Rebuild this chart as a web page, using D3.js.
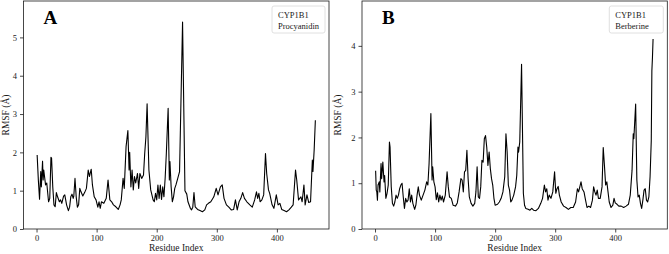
<!DOCTYPE html>
<html>
<head>
<meta charset="utf-8">
<script src="https://cdn.jsdelivr.net/npm/d3@7"></script>
<style>
  html, body { margin: 0; padding: 0; background: #fff; }
  svg { display: block; }
</style>
</head>
<body>
<div id="chart"></div>
<script>
// Panel A: CYP1B1 + Procyanidin
const resA = [1,3,5,7,8,10,11,12,15,17,20,22,24,25,27,29,31,33,35,38,40,42,45,47,50,53,55,57,59,61,62,64,66,68,70,72,74,77,80,83,86,88,91,93,96,99,102,104,106,108,112,116,119,122,125,128,132,136,139,141,144,146,149,152,154,155,157,159,161,163,165,168,170,172,175,178,180,182,184,187,190,194,196,198,200,202,204,206,208,210,212,214,216,219,221,222,224,226,228,230,232,235,238,243,247,250,252,256,258,260,262,264,268,272,276,280,283,286,290,295,299,302,306,309,312,316,320,324,328,331,334,337,340,343,346,350,355,359,363,366,368,370,372,375,378,381,383,386,388,392,395,399,402,405,408,412,416,420,424,427,431,433,436,440,442,445,447,450,453,456,459,460,462,464];
const rmsfA = [1.93,1.28,0.78,1.5,1.1,1.77,1.28,1.54,1.15,1.2,0.71,0.8,1.87,1.85,1.1,0.63,0.58,0.95,0.84,0.71,0.76,0.67,0.86,0.89,0.63,0.48,0.57,0.84,0.91,0.8,0.86,1.32,0.84,0.57,0.63,1.06,0.97,0.86,0.95,1.06,1.54,1.37,1.56,1.15,0.84,0.76,0.57,0.71,0.54,0.71,0.67,0.8,1.28,0.76,0.71,0.63,0.58,0.51,0.63,0.76,1.32,1.06,2.15,2.57,1.54,2.0,1.1,1.54,1.02,1.37,1.2,1.45,1.06,1.45,1.32,1.41,1.97,2.4,3.27,1.54,1.02,0.76,0.71,0.93,0.76,1.15,0.8,1.15,0.77,1.1,0.84,1.32,1.97,3.15,1.28,1.76,1.1,0.71,0.84,1.06,1.15,1.32,1.5,5.4,1.0,0.91,0.71,0.54,0.5,0.57,0.95,0.58,0.51,0.48,0.45,0.5,0.63,0.67,0.71,0.84,1.06,0.89,1.1,1.15,0.8,0.63,0.57,0.5,0.51,0.76,0.5,0.71,0.8,0.95,0.8,0.71,0.63,0.57,0.76,0.97,0.8,0.93,0.71,0.76,0.89,1.97,1.45,1.02,0.93,0.63,0.54,0.89,0.63,0.67,0.51,0.48,0.45,0.5,0.57,0.63,1.54,1.28,0.76,0.84,0.71,1.15,0.63,0.89,0.69,0.71,1.8,1.5,2.06,2.84];

// Panel B: CYP1B1 + Berberine
const resB = [1,2,3,4,5,7,8,10,11,13,15,16,18,20,22,24,25,27,29,31,33,35,37,39,41,43,45,47,49,51,53,55,57,59,61,63,66,68,70,72,74,77,80,83,86,88,90,93,95,96,98,100,102,104,106,108,110,112,114,117,120,122,124,127,130,134,137,140,143,145,147,149,151,153,155,157,160,163,166,168,170,172,174,176,178,180,182,184,186,188,190,192,194,196,198,200,204,207,210,213,216,218,220,222,224,226,228,231,234,236,238,239,241,244,247,249,251,255,258,261,264,268,272,276,279,282,284,286,288,290,293,296,299,301,303,305,307,310,314,318,322,326,330,334,337,339,341,343,345,348,350,353,356,359,362,364,366,368,370,372,375,378,380,382,384,386,388,390,393,396,398,400,403,406,410,414,418,422,425,428,430,431,434,436,438,440,442,444,446,448,450,452,454,456,458,460,461,462,463];
const rmsfB = [1.27,0.85,0.81,0.63,0.96,1.03,0.81,1.43,1.1,1.46,1.03,1.17,0.67,0.78,0.96,1.9,1.79,0.92,0.56,0.5,0.59,0.74,0.67,0.74,0.88,0.96,1.0,0.7,0.45,0.67,0.59,0.63,0.88,0.59,0.74,0.56,0.43,0.52,0.74,0.92,0.74,0.63,0.74,0.85,1.03,0.96,1.43,2.52,1.07,1.36,1.03,0.92,0.64,0.79,0.59,0.74,0.63,0.72,0.59,0.74,1.25,0.92,0.7,0.67,0.52,0.5,0.57,0.81,1.1,1.07,0.81,1.25,1.28,1.72,1.1,0.7,0.56,0.5,0.56,0.81,1.36,0.7,0.67,0.92,1.5,1.46,1.97,2.04,1.79,1.39,1.68,1.32,1.1,0.96,0.67,0.52,0.54,0.59,0.67,0.81,1.14,2.08,1.68,0.96,0.85,0.59,0.63,0.74,0.92,1.17,1.79,1.68,1.9,3.6,0.78,0.52,0.45,0.43,0.41,0.45,0.41,0.4,0.45,0.56,0.67,0.96,0.81,0.88,0.63,0.74,0.67,0.81,1.25,0.78,0.88,0.93,0.74,0.59,0.5,0.47,0.43,0.47,0.47,0.59,0.88,0.81,0.92,1.03,0.88,0.81,0.67,0.47,0.5,0.47,0.63,0.92,0.81,0.74,0.85,0.67,0.67,0.92,1.78,1.39,0.96,1.03,0.81,0.59,0.47,0.52,0.67,0.57,0.54,0.5,0.5,0.47,0.5,0.54,0.74,1.28,2.08,1.97,2.73,1.07,0.7,0.74,0.56,0.45,0.63,0.85,0.88,0.63,0.59,0.7,1.14,1.93,3.45,3.75,4.15];

const xTicks = [0, 100, 200, 300, 400];
const yTicksA = [0, 1, 2, 3, 4, 5];
const yTicksB = [0, 1, 2, 3, 4];

const width = 669, height = 254;
const font = "'Liberation Serif', 'DejaVu Serif', serif";
const ink = "#1a1a1a";

const svg = d3.select("#chart").append("svg")
    .attr("width", width)
    .attr("height", height)
    .attr("viewBox", `0 0 ${width} ${height}`);

const panels = [
    { res: resA, vals: rmsfA, left: 23.5, right: 329, yMax: 5.95, yTicks: yTicksA, yLabelOff: 14.5,
      letter: "A", legend: ["CYP1B1", "Procyanidin"], legendW: 53 },
    { res: resB, vals: rmsfB, left: 362, right: 667.3, yMax: 4.98, yTicks: yTicksB, yLabelOff: 21.5,
      letter: "B", legend: ["CYP1B1", "Berberine"], legendW: 54 }
];

const plotTop = 1, plotBottom = 229;

panels.forEach(p => {
    const x = d3.scaleLinear().domain([-21.7, 486.7]).range([p.left, p.right]);
    const y = d3.scaleLinear().domain([0, p.yMax]).range([plotBottom, plotTop]);
    const g = svg.append("g");

    // line
    const pts = p.res.map((r, i) => [r, p.vals[i]]);
    g.append("path")
        .datum(pts)
        .attr("fill", "none")
        .attr("stroke", "#000")
        .attr("stroke-width", 1.1)
        .attr("stroke-linejoin", "round")
        .attr("d", d3.line().x(d => x(d[0])).y(d => y(d[1])));

    // axes
    const xAxis = d3.axisBottom(x).tickValues(xTicks).tickFormat(d3.format("d")).tickSize(3.5).tickPadding(2.5);
    const yAxis = d3.axisLeft(y).tickValues(p.yTicks).tickFormat(d3.format("d")).tickSize(3.5).tickPadding(3);

    const gx = g.append("g").attr("transform", `translate(0,${plotBottom})`).call(xAxis);
    const gy = g.append("g").attr("transform", `translate(${p.left},0)`).call(yAxis);
    [gx, gy].forEach(a => {
        a.select(".domain").remove();
        a.selectAll("line").attr("stroke", ink).attr("stroke-width", 0.8);
        a.selectAll("text").attr("font-family", font).attr("font-size", 8.5).attr("fill", ink);
    });

    // frame
    g.append("rect")
        .attr("x", p.left).attr("y", plotTop)
        .attr("width", p.right - p.left).attr("height", plotBottom - plotTop)
        .attr("fill", "none").attr("stroke", ink).attr("stroke-width", 0.8);

    // axis labels
    g.append("text")
        .attr("x", (p.left + p.right) / 2).attr("y", 251)
        .attr("text-anchor", "middle")
        .attr("font-family", font).attr("font-size", 9.5).attr("fill", ink)
        .text("Residue Index");
    g.append("text")
        .attr("transform", `translate(${p.left - p.yLabelOff},${(plotTop + plotBottom) / 2}) rotate(-90)`)
        .attr("text-anchor", "middle")
        .attr("font-family", font).attr("font-size", 9.5).attr("fill", ink)
        .text("RMSF (Å)");

    // panel letter
    g.append("text")
        .attr("x", p.left + 20).attr("y", 24)
        .attr("font-family", font).attr("font-size", 19).attr("font-weight", "bold")
        .attr("fill", "#000")
        .text(p.letter);

    // legend box
    const lx = p.right - 4 - p.legendW;
    g.append("rect")
        .attr("x", lx).attr("y", 6)
        .attr("width", p.legendW).attr("height", 27)
        .attr("rx", 2)
        .attr("fill", "#fff").attr("stroke", "#d8d8d8").attr("stroke-width", 0.8);
    p.legend.forEach((t, i) => {
        g.append("text")
            .attr("x", lx + 6).attr("y", 18 + i * 10.5)
            .attr("font-family", font).attr("font-size", 8.5).attr("fill", ink)
            .text(t);
    });
});
</script>
</body>
</html>
